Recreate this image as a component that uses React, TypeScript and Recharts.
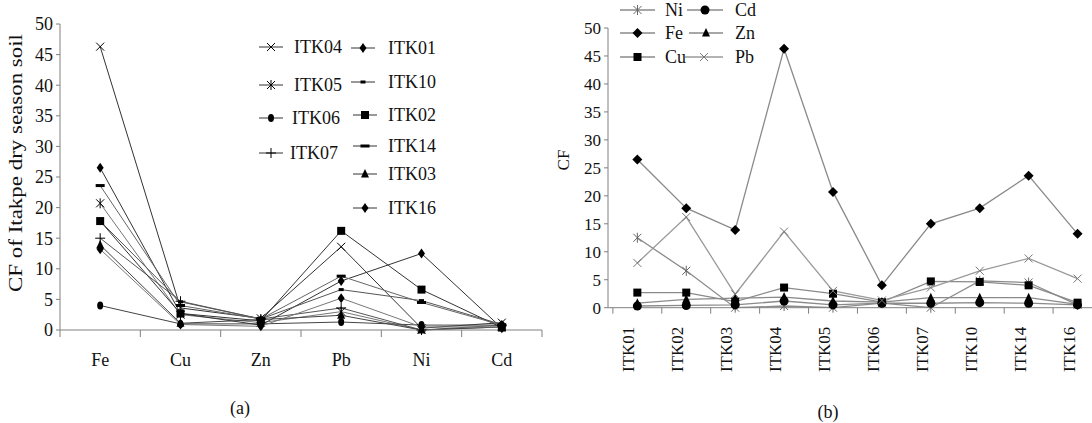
import React from 'react';
import { LineChart, Line, XAxis, YAxis, Legend } from 'recharts';

// ---------- data ----------
const sites = ['ITK01', 'ITK02', 'ITK03', 'ITK04', 'ITK05', 'ITK06', 'ITK07', 'ITK10', 'ITK14', 'ITK16'];
const elements = ['Fe', 'Cu', 'Zn', 'Pb', 'Ni', 'Cd'];
const fe = [26.5, 17.8, 13.9, 46.3, 20.7, 4.0, 15.0, 17.8, 23.6, 13.2];
const cu = [2.7, 2.7, 1.1, 3.6, 2.5, 1.0, 4.7, 4.6, 4.0, 0.9];
const zn = [0.8, 1.5, 1.7, 1.9, 1.2, 1.0, 1.8, 1.8, 1.8, 0.6];
const pb = [8.0, 16.2, 2.4, 13.6, 3.0, 1.3, 3.6, 6.6, 8.8, 5.2];
const ni = [12.5, 6.6, 0.0, 0.3, 0.0, 0.8, 0.0, 4.8, 4.5, 0.5];
const cd = [0.3, 0.4, 0.5, 1.2, 0.5, 0.8, 0.8, 0.9, 0.8, 0.5];
const yTicks = [0, 5, 10, 15, 20, 25, 30, 35, 40, 45, 50];
const yLabelA = 'CF of Itakpe dry season soil';
const yLabelB = 'CF';

const valuesByElement: Record<string, number[]> = { Fe: fe, Cu: cu, Zn: zn, Pb: pb, Ni: ni, Cd: cd };

// panel (a): one row per element, one series per site
const dataA = elements.map((el, j) => {
  const row: any = { x: j + 0.5, name: el };
  sites.forEach((s, i) => { row[s] = valuesByElement[el][i]; });
  return row;
});
// panel (b): one row per site, one series per element
const dataB = sites.map((s, i) => {
  const row: any = { x: i + 0.5, name: s };
  elements.forEach((el) => { row[el] = valuesByElement[el][i]; });
  return row;
});
const ticksA = Array.from({ length: elements.length * 2 + 1 }, (_, k) => k / 2);
const ticksB = Array.from({ length: sites.length * 2 + 1 }, (_, k) => k / 2);

// ---------- styles ----------
const FONT = "'Liberation Serif', 'Times New Roman', serif";
const AXIS = '#808080';
const TXT = '#111';

type Kind = 'x' | 'asterisk' | 'ellipse' | 'plus' | 'diamond' | 'smalldash' | 'square' | 'dash' | 'triangle' | 'circle' | 'bigdiamond';

const seriesA: { site: string; kind: Kind; color: string }[] = [
  { site: 'ITK04', kind: 'x', color: '#333' },
  { site: 'ITK05', kind: 'asterisk', color: '#777' },
  { site: 'ITK06', kind: 'ellipse', color: '#444' },
  { site: 'ITK07', kind: 'plus', color: '#555' },
  { site: 'ITK01', kind: 'diamond', color: '#333' },
  { site: 'ITK10', kind: 'smalldash', color: '#555' },
  { site: 'ITK02', kind: 'square', color: '#333' },
  { site: 'ITK14', kind: 'dash', color: '#666' },
  { site: 'ITK03', kind: 'triangle', color: '#444' },
  { site: 'ITK16', kind: 'diamond', color: '#777' },
];
const legendAPos: Record<string, { lx: number; tx: number; y: number }> = {
  ITK04: { lx: 259, tx: 294, y: 47 },
  ITK05: { lx: 259, tx: 294, y: 85 },
  ITK06: { lx: 259, tx: 292, y: 118 },
  ITK07: { lx: 259, tx: 290, y: 153 },
  ITK01: { lx: 351, tx: 388, y: 48 },
  ITK10: { lx: 351, tx: 388, y: 82 },
  ITK02: { lx: 353, tx: 388, y: 115 },
  ITK14: { lx: 353, tx: 388, y: 146 },
  ITK03: { lx: 353, tx: 388, y: 174 },
  ITK16: { lx: 353, tx: 388, y: 208 },
};

const seriesB: { el: string; kind: Kind; color: string; mcolor: string }[] = [
  { el: 'Ni', kind: 'asterisk', color: '#8a8a8a', mcolor: '#666' },
  { el: 'Cd', kind: 'circle', color: '#8a8a8a', mcolor: '#000' },
  { el: 'Fe', kind: 'bigdiamond', color: '#8a8a8a', mcolor: '#000' },
  { el: 'Zn', kind: 'triangle', color: '#8a8a8a', mcolor: '#000' },
  { el: 'Cu', kind: 'square', color: '#8a8a8a', mcolor: '#000' },
  { el: 'Pb', kind: 'x', color: '#9a9a9a', mcolor: '#777' },
];
const legendBPos: Record<string, { lx: number; lw: number; tx: number; y: number }> = {
  Ni: { lx: 80, lw: 35, tx: 125, y: 10 },
  Fe: { lx: 80, lw: 35, tx: 125, y: 33 },
  Cu: { lx: 80, lw: 35, tx: 125, y: 57 },
  Cd: { lx: 147, lw: 36, tx: 195, y: 10 },
  Zn: { lx: 149, lw: 34, tx: 195, y: 33 },
  Pb: { lx: 145, lw: 38, tx: 195, y: 57 },
};

function Marker({ kind, cx, cy, color = '#000', big = false }: { kind: Kind; cx: number; cy: number; color?: string; big?: boolean }) {
  const s = big ? 1.25 : 1;
  switch (kind) {
    case 'x':
      return (
        <g stroke={color} strokeWidth={1}>
          <line x1={cx - 4 * s} y1={cy - 4 * s} x2={cx + 4 * s} y2={cy + 4 * s} />
          <line x1={cx - 4 * s} y1={cy + 4 * s} x2={cx + 4 * s} y2={cy - 4 * s} />
        </g>
      );
    case 'asterisk':
      return (
        <g stroke={color} strokeWidth={1}>
          <line x1={cx - 4 * s} y1={cy - 4 * s} x2={cx + 4 * s} y2={cy + 4 * s} />
          <line x1={cx - 4 * s} y1={cy + 4 * s} x2={cx + 4 * s} y2={cy - 4 * s} />
          <line x1={cx} y1={cy - 5 * s} x2={cx} y2={cy + 5 * s} />
        </g>
      );
    case 'plus':
      return (
        <g stroke={color} strokeWidth={1}>
          <line x1={cx - 5} y1={cy} x2={cx + 5} y2={cy} />
          <line x1={cx} y1={cy - 5} x2={cx} y2={cy + 5} />
        </g>
      );
    case 'ellipse':
      return <ellipse cx={cx} cy={cy} rx={3} ry={4} fill={color} />;
    case 'circle':
      return <circle cx={cx} cy={cy} r={4.5} fill={color} />;
    case 'diamond':
      return <polygon points={`${cx},${cy - 5} ${cx + 3.5},${cy} ${cx},${cy + 5} ${cx - 3.5},${cy}`} fill={color} />;
    case 'bigdiamond':
      return <polygon points={`${cx},${cy - 5} ${cx + 5},${cy} ${cx},${cy + 5} ${cx - 5},${cy}`} fill={color} />;
    case 'square':
      return <rect x={cx - 4} y={cy - 4} width={8} height={8} fill={color} />;
    case 'triangle':
      return <polygon points={`${cx},${cy - 5} ${cx + 4},${cy + 3.5} ${cx - 4},${cy + 3.5}`} fill={color} />;
    case 'dash':
      return <rect x={cx - 4.5} y={cy - 1.5} width={9} height={3} fill={color} />;
    case 'smalldash':
      return <rect x={cx - 2.5} y={cy - 1.5} width={5} height={3} fill={color} />;
    default:
      return null;
  }
}

// ---------- ticks ----------
const isBoundary = (v: number) => Math.abs(v - Math.round(v)) < 1e-6;

const XTickA = (props: any) => {
  const { x, y, payload } = props;
  const v = Number(payload.value);
  if (isBoundary(v)) return <line x1={x} x2={x} y1={y} y2={y + 7} stroke={AXIS} strokeWidth={1} />;
  return (
    <text x={x} y={y + 36} textAnchor="middle" fontFamily={FONT} fontSize={18} fill={TXT}>
      {elements[Math.floor(v)]}
    </text>
  );
};

const XTickB = (props: any) => {
  const { x, y, payload } = props;
  const v = Number(payload.value);
  if (isBoundary(v)) return <line x1={x} x2={x} y1={y} y2={y + 6} stroke={AXIS} strokeWidth={1} />;
  const bx = x - 3;
  const by = y + 19;
  return (
    <text x={bx} y={by} transform={`rotate(-90 ${bx} ${by})`} textAnchor="end" fontFamily={FONT} fontSize={17} fill={TXT}>
      {sites[Math.floor(v)]}
    </text>
  );
};

// ---------- legends ----------
const LegendA = () => (
  <svg width={560} height={230}>
    {seriesA.map((s) => {
      const p = legendAPos[s.site];
      return (
        <g key={s.site}>
          <line x1={p.lx} x2={p.lx + 24} y1={p.y} y2={p.y} stroke="#333" strokeWidth={1} />
          <Marker kind={s.kind} cx={p.lx + 12} cy={p.y} />
          <text x={p.tx} y={p.y + 6} fontFamily={FONT} fontSize={18} fill={TXT}>{s.site}</text>
        </g>
      );
    })}
  </svg>
);

const LegendB = () => (
  <svg width={570} height={80}>
    {seriesB.map((s) => {
      const p = legendBPos[s.el];
      return (
        <g key={s.el}>
          <line x1={p.lx} x2={p.lx + p.lw} y1={p.y} y2={p.y} stroke={s.color} strokeWidth={1.3} />
          <Marker kind={s.kind} cx={p.lx + p.lw / 2} cy={p.y} color={s.mcolor} />
          <text x={p.tx} y={p.y + 6} fontFamily={FONT} fontSize={18} fill={TXT}>{s.el}</text>
        </g>
      );
    })}
  </svg>
);

export default function App() {
  return (
    <div style={{ position: 'absolute', left: 0, top: 0, width: 1092, height: 423, overflow: 'hidden', background: '#fff' }}>
      {/* panel (a) */}
      <div style={{ position: 'absolute', left: 0, top: 0 }}>
        <LineChart width={560} height={423} data={dataA} margin={{ top: 24, right: 18, bottom: 33, left: 0 }}>
          <XAxis
            dataKey="x"
            type="number"
            domain={[0, elements.length]}
            ticks={ticksA}
            interval={0}
            tickSize={0}
            tickMargin={0}
            tickLine={false}
            stroke={AXIS}
            height={60}
            tick={<XTickA />}
          />
          <YAxis
            type="number"
            domain={[0, 50]}
            ticks={yTicks}
            interval={0}
            width={60}
            stroke={AXIS}
            tickSize={4}
            tickMargin={3}
            tick={{ fontFamily: FONT, fontSize: 18, fill: TXT }}
            label={() => (
              <text
                x={22}
                y={163}
                transform="rotate(-90 22 163)"
                textAnchor="middle"
                fontFamily={FONT}
                fontSize={18}
                fill={TXT}
                textLength={258}
                lengthAdjust="spacingAndGlyphs"
              >
                {yLabelA}
              </text>
            )}
          />
          <Legend
            layout="vertical"
            align="center"
            verticalAlign="middle"
            wrapperStyle={{ left: 0, top: 0, width: 560, height: 230 }}
            content={() => <LegendA />}
          />
          {seriesA.map((s) => (
            <Line
              key={s.site}
              dataKey={s.site}
              stroke={s.color}
              strokeWidth={1}
              isAnimationActive={false}
              dot={(p: any) => <Marker key={`${s.site}-${p.index}`} kind={s.kind} cx={p.cx} cy={p.cy} />}
              activeDot={false}
            />
          ))}
        </LineChart>
      </div>
      <div style={{ position: 'absolute', left: 228, top: 396, width: 24, textAlign: 'center', fontFamily: FONT, fontSize: 18, color: TXT, lineHeight: '24px' }}>
        (a)
      </div>

      {/* panel (b) */}
      <div style={{ position: 'absolute', left: 540, top: 0 }}>
        <LineChart width={570} height={423} data={dataB} margin={{ top: 28, right: 8, bottom: 35.3, left: 0 }}>
          <XAxis
            dataKey="x"
            type="number"
            domain={[-0.1, sites.length]}
            ticks={ticksB}
            interval={0}
            tickSize={0}
            tickMargin={0}
            tickLine={false}
            stroke={AXIS}
            height={80}
            tick={<XTickB />}
          />
          <YAxis
            type="number"
            domain={[0, 50]}
            ticks={yTicks}
            interval={0}
            width={68}
            stroke={AXIS}
            tickSize={4}
            tickMargin={3}
            tick={{ fontFamily: FONT, fontSize: 17, fill: TXT }}
            label={() => (
              <text x={29} y={160} transform="rotate(-90 29 160)" textAnchor="middle" fontFamily={FONT} fontSize={17} fill={TXT}>
                {yLabelB}
              </text>
            )}
          />
          <Legend
            layout="vertical"
            align="center"
            verticalAlign="middle"
            wrapperStyle={{ left: 0, top: 0, width: 570, height: 80 }}
            content={() => <LegendB />}
          />
          {seriesB.map((s) => (
            <Line
              key={s.el}
              dataKey={s.el}
              stroke={s.color}
              strokeWidth={1.3}
              isAnimationActive={false}
              dot={(p: any) => <Marker key={`${s.el}-${p.index}`} kind={s.kind} cx={p.cx} cy={p.cy} color={s.mcolor} />}
              activeDot={false}
            />
          ))}
        </LineChart>
      </div>
      <div style={{ position: 'absolute', left: 814, top: 400, width: 28, textAlign: 'center', fontFamily: FONT, fontSize: 18, color: TXT, lineHeight: '24px' }}>
        (b)
      </div>
    </div>
  );
}
